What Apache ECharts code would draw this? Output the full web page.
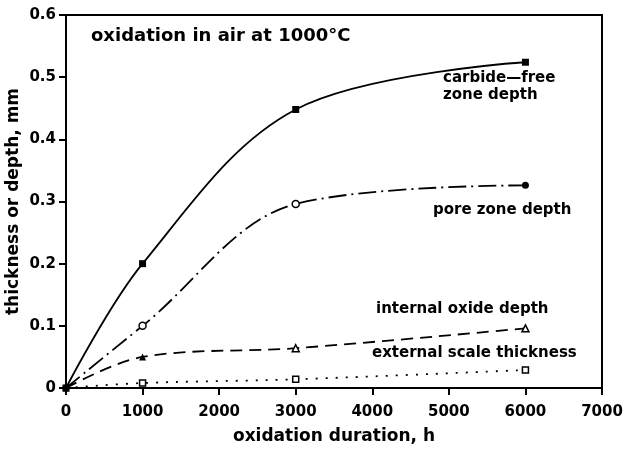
<!DOCTYPE html>
<html>
<head>
<meta charset="utf-8">
<script src="https://cdn.jsdelivr.net/npm/echarts@6/dist/echarts.min.js"></script>
<style>
html, body { margin: 0; padding: 0; background: #fff; }
#main { width: 623px; height: 451px; }
</style>
</head>
<body>
<div id="main"></div>
<script>
// oxidation time (h) and measured depths (mm)
var hours = [0, 1000, 3000, 6000];
var carbideFree = [0, 0.2, 0.448, 0.524];
var poreZone = [0, 0.1, 0.296, 0.326];
var internalOxide = [0, 0.05, 0.064, 0.096];
var externalScale = [0, 0.008, 0.014, 0.029];
// which markers are drawn hollow
var poreOpen = [false, true, true, false];
var oxideOpen = [false, false, true, true];
var scaleOpen = [false, true, true, true];

var FONT = 'DejaVu Sans';

function pts(vals, open) {
	return hours.map(function (h, i) {
		var item = {value: [h, vals[i]]};
		if (open && open[i]) {
			item.itemStyle = {color: '#fff', borderColor: '#000', borderWidth: 1.5};
		}
		return item;
	});
}

var chartDom = document.getElementById('main');
var myChart = echarts.init(chartDom);
var option;
option = {
	animation: false,
	backgroundColor: '#fff',
	grid: {
		left: 66, top: 15, right: 21, bottom: 63,
		outerBoundsMode: 'none',
		containLabel: false,
		show: true, borderColor: '#000', borderWidth: 2
	},
	xAxis: {
		type: 'value',
		min: 0, max: 7000, interval: 1000,
		name: 'oxidation duration, h',
		nameLocation: 'middle',
		nameGap: 40,
		nameMoveOverlap: false,
		nameTextStyle: {color: '#000', fontFamily: FONT, fontWeight: 'bold', fontSize: 17},
		axisLine: {lineStyle: {color: '#000', width: 2}},
		axisTick: {show: true, length: 7, lineStyle: {color: '#000', width: 2}},
		axisLabel: {color: '#000', fontFamily: FONT, fontWeight: 'bold', fontSize: 15, margin: 17,
			formatter: function (v) { return String(v); }},
		splitLine: {show: false}
	},
	yAxis: {
		type: 'value',
		min: 0, max: 0.6, interval: 0.1,
		name: 'thickness or depth, mm',
		nameLocation: 'middle',
		nameGap: 44,
		nameMoveOverlap: false,
		nameTextStyle: {color: '#000', fontFamily: FONT, fontWeight: 'bold', fontSize: 17},
		axisLine: {lineStyle: {color: '#000', width: 2}},
		axisTick: {show: true, length: 7, lineStyle: {color: '#000', width: 2}},
		axisLabel: {color: '#000', fontFamily: FONT, fontWeight: 'bold', fontSize: 15, margin: 10,
			formatter: function (v) { return v === 0 ? '0' : v.toFixed(1); }},
		splitLine: {show: false}
	},
	series: [
		{
			name: 'carbide-free zone depth',
			type: 'line',
			smooth: 0.35,
			data: pts(carbideFree),
			symbol: 'rect', symbolSize: 7,
			itemStyle: {color: '#000'},
			lineStyle: {color: '#000', width: 1.8, type: 'solid'}
		},
		{
			name: 'pore zone depth',
			type: 'line',
			smooth: 0.35,
			data: pts(poreZone, poreOpen),
			symbol: 'circle', symbolSize: 7,
			itemStyle: {color: '#000'},
			lineStyle: {color: '#000', width: 1.8, type: [18, 5, 2, 5]}
		},
		{
			name: 'internal oxide depth',
			type: 'line',
			smooth: 0.35,
			data: pts(internalOxide, oxideOpen),
			symbol: 'triangle', symbolSize: 7,
			itemStyle: {color: '#000'},
			lineStyle: {color: '#000', width: 1.8, type: [12, 7]}
		},
		{
			name: 'external scale thickness',
			type: 'line',
			smooth: 0.35,
			data: pts(externalScale, scaleOpen),
			symbol: 'rect', symbolSize: 6,
			itemStyle: {color: '#000'},
			lineStyle: {color: '#000', width: 1.8, type: [2, 8]}
		}
	],
	graphic: [
		{type: 'text', left: 91, top: 27, style: {text: 'oxidation in air at 1000°C', fill: '#000', font: 'bold 18px "DejaVu Sans"'}},
		{type: 'text', left: 443, top: 70, style: {text: 'carbide—free\nzone depth', fill: '#000', font: 'bold 15px "DejaVu Sans"', lineHeight: 17}},
		{type: 'text', left: 433, top: 203, style: {text: 'pore zone depth', fill: '#000', font: 'bold 15px "DejaVu Sans"'}},
		{type: 'text', left: 376, top: 302, style: {text: 'internal oxide depth', fill: '#000', font: 'bold 15px "DejaVu Sans"'}},
		{type: 'text', left: 372, top: 346, style: {text: 'external scale thickness', fill: '#000', font: 'bold 15px "DejaVu Sans"'}}
	]
};

option && myChart.setOption(option);
</script>
</body>
</html>
